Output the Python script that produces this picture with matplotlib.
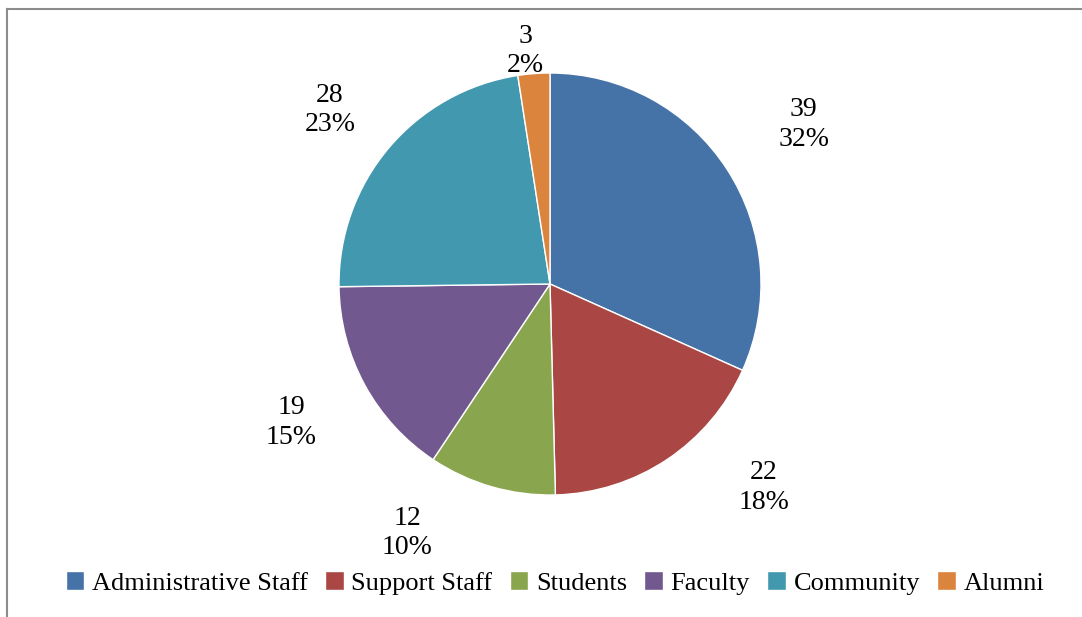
import numpy as np
import matplotlib
matplotlib.use("Agg")
import matplotlib.pyplot as plt
from matplotlib.lines import Line2D

categorias = ["Administrative Staff", "Support Staff", "Students", "Faculty", "Community", "Alumni"]
valores = [39, 22, 12, 19, 28, 3]
percentuais = ["32%", "18%", "10%", "15%", "23%", "2%"]
cores = ["#4572A7", "#AA4643", "#89A54E", "#71588F", "#4198AF", "#DB843D"]

plt.rcParams["font.family"] = ["Liberation Serif", "DejaVu Serif"]

fig = plt.figure(figsize=(10.82, 6.17), dpi=100)
ax = fig.add_axes([0, 0, 1, 1])

wedges, _ = ax.pie(valores, colors=cores, startangle=90, counterclock=False,
                   radius=1.0, wedgeprops=dict(edgecolor="white", linewidth=1))

# distancia e deslocamento angular de cada rotulo (posicionamento "best fit")
distancias = [1.42, 1.40, 1.36, 1.39, 1.33, 1.11]
desvios = [-0.8, 12.7, -13.7, -0.4, 1.9, 1.7]
for w, v, p, d, dv in zip(wedges, valores, percentuais, distancias, desvios):
    ang = np.deg2rad((w.theta1 + w.theta2) / 2 + dv)
    ax.text(d * np.cos(ang), d * np.sin(ang), f"{v}\n{p}", ha="center", va="center",
            fontsize=20, linespacing=1.25)

ax.set_aspect("equal")
ax.set_xlim(-550 / 211, 532 / 211)
ax.set_ylim(-333 / 211, 284 / 211)
ax.axis("off")

leg = fig.legend(wedges, categorias, loc="center", bbox_to_anchor=(555 / 1082, 1 - 583 / 617),
                 ncol=6, frameon=False, fontsize=19, handlelength=0.7, handleheight=0.7,
                 handletextpad=0.3, columnspacing=0.65)

fig.add_artist(Line2D([7 / 1082, 7 / 1082], [0, 1 - 9 / 617], transform=fig.transFigure,
                      color="#8c8c8c", linewidth=1.5))
fig.add_artist(Line2D([7 / 1082, 1], [1 - 9 / 617, 1 - 9 / 617], transform=fig.transFigure,
                      color="#8c8c8c", linewidth=1.5))

fig.savefig("out.png", dpi=100)
